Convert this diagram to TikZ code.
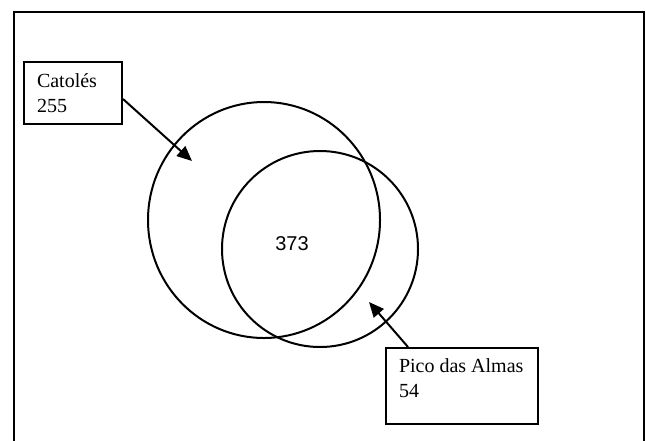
\documentclass[tikz,border=0pt]{standalone}
\usepackage{fontspec}
\setmainfont{Liberation Serif}
\newfontfamily\numfont{Liberation Sans}
\usetikzlibrary{arrows.meta}

\begin{document}
\begin{tikzpicture}[x=0.5pt, y=-0.5pt, line width=1pt,
    areabox/.style={draw, anchor=north west, inner sep=0pt},
    areatext/.style={anchor=north west, align=left, inner sep=0pt, font=\fontsize{10}{12.5}\selectfont},
    pointer/.style={-{Triangle[length=7.5pt, width=6.5pt]}}]
    \useasboundingbox (0,0) rectangle (646,440);
    % frame, open at the bottom
    \draw (14,442) -- (14,12) -- (644,12) -- (644,442);

    \draw (264,220) ellipse [x radius=58pt, y radius=59pt];
    \draw (320,249) circle [radius=49pt];
    \node[inner sep=0pt, font=\numfont\fontsize{10}{12}\selectfont] (both) at (292,244) {373};

    \node[areabox, minimum width=49pt, minimum height=31pt] (catbox) at (23,61) {};
    \node[areatext] (cattext) at (36,73) {Catolés\\255};
    \coordinate (cattip) at (192,161);
    \draw[pointer] ([yshift=-3pt]catbox.east) -- (cattip);

    \node[areabox, minimum width=76pt, minimum height=38pt] (picobox) at (385,347) {};
    \node[areatext] (picotext) at (398,358) {Pico das Almas\\54};
    \coordinate (picotip) at (369,302);
    \draw[pointer] ([xshift=11.5pt]picobox.north west) -- (picotip);
\end{tikzpicture}
\end{document}
